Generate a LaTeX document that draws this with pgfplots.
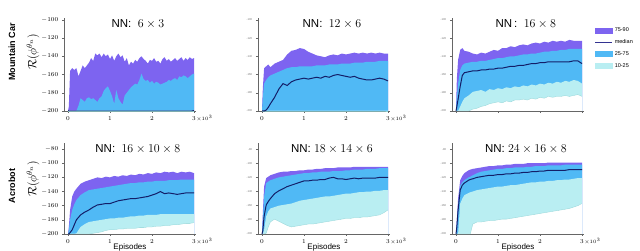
\documentclass[border=0pt]{standalone}
\usepackage{pgfplots}
\pgfplotsset{compat=1.18}
\usepackage{pgfplotstable}
\usepackage{fontspec}
\setmainfont{Liberation Sans}
\definecolor{cP}{HTML}{7D64F0}
\definecolor{cB}{HTML}{50B9F5}
\definecolor{cC}{HTML}{B9EEF2}
\definecolor{cM}{HTML}{131E68}

% Mountain Car, NN 6x3
\pgfplotstableread{
x p10 p25 med p75 p90
0 -200 -200 -200 -200 -200
0.02 -200 -200 -200 -200 -195
0.05 -200 -200 -200 -200 -156
0.1 -200 -200 -200 -200 -153
0.15 -200 -200 -200 -200 -155
0.2 -200 -200 -200 -200 -153
0.25 -200 -200 -200 -194 -162
0.3 -200 -200 -200 -186 -156
0.35 -200 -200 -200 -188 -150
0.4 -200 -200 -200 -190 -153
0.45 -200 -200 -200 -186 -150
0.5 -200 -200 -200 -185 -147
0.55 -200 -200 -200 -187 -142
0.6 -200 -200 -200 -186 -145
0.65 -200 -200 -200 -188 -137
0.7 -200 -200 -200 -190 -139
0.75 -200 -200 -200 -186 -137
0.8 -200 -200 -200 -184 -141
0.85 -200 -200 -200 -178 -137
0.9 -200 -200 -200 -175 -140
0.95 -200 -200 -200 -173 -138
1.0 -200 -200 -200 -178 -143
1.05 -200 -200 -200 -184 -139
1.1 -200 -200 -200 -192 -145
1.15 -200 -200 -200 -177 -140
1.2 -200 -200 -200 -186 -137
1.25 -200 -200 -200 -190 -141
1.3 -200 -200 -200 -193 -139
1.35 -200 -200 -200 -183 -146
1.4 -200 -200 -200 -180 -142
1.45 -200 -200 -200 -177 -150
1.5 -200 -200 -200 -174 -146
1.55 -200 -200 -200 -172 -148
1.6 -200 -200 -200 -170 -144
1.65 -200 -200 -200 -171 -146
1.7 -200 -200 -200 -166 -142
1.75 -200 -200 -200 -159 -140
1.8 -200 -200 -200 -165 -143
1.85 -200 -200 -200 -167 -145
1.9 -200 -200 -200 -166 -148
1.95 -200 -200 -200 -169 -144
2.0 -200 -200 -200 -167 -145
2.05 -200 -200 -200 -170 -142
2.1 -200 -200 -200 -168 -146
2.15 -200 -200 -200 -169 -145
2.2 -200 -200 -200 -171 -148
2.25 -200 -200 -200 -170 -143
2.3 -200 -200 -200 -169 -141
2.35 -200 -200 -200 -168 -145
2.4 -200 -200 -200 -166 -143
2.45 -200 -200 -200 -167 -146
2.5 -200 -200 -200 -165 -144
2.55 -200 -200 -200 -164 -142
2.6 -200 -200 -200 -166 -145
2.65 -200 -200 -200 -162 -143
2.7 -200 -200 -200 -163 -141
2.75 -200 -200 -200 -161 -145
2.8 -200 -200 -200 -162 -142
2.85 -200 -200 -200 -164 -144
2.9 -200 -200 -200 -162 -141
2.95 -200 -200 -200 -160 -143
3.0 -200 -200 -200 -159 -142
}\dA

% Mountain Car, NN 12x6
\pgfplotstableread{
x p10 p25 med p75 p90
0 -200 -200 -200 -200 -200
0.02 -200 -200 -200 -185 -175
0.05 -200 -200 -200 -170 -153
0.1 -200 -200 -199 -166 -151
0.15 -200 -200 -196 -163 -149
0.2 -200 -200 -192 -161 -152
0.3 -200 -200 -185 -159 -148
0.4 -200 -200 -176 -157 -146
0.5 -200 -200 -170 -155 -144
0.6 -200 -200 -172 -153 -138
0.7 -200 -200 -168 -152 -134
0.8 -200 -200 -166 -152 -133
0.9 -200 -200 -165 -151 -131
1.0 -200 -200 -164 -151 -132
1.1 -200 -200 -165 -151 -135
1.2 -200 -200 -164 -151 -137
1.3 -200 -200 -163 -150 -139
1.4 -200 -200 -164 -150 -140
1.5 -200 -200 -162 -150 -141
1.6 -200 -200 -163 -149 -139
1.7 -200 -200 -161 -149 -138
1.8 -200 -200 -160 -149 -139
1.9 -200 -200 -161 -148 -137
2.0 -200 -200 -162 -148 -138
2.1 -200 -200 -163 -148 -137
2.2 -200 -200 -162 -147 -136
2.3 -200 -200 -164 -147 -137
2.4 -200 -200 -165 -147 -136
2.5 -200 -200 -166 -146 -137
2.6 -200 -200 -166 -146 -136
2.7 -200 -200 -165 -146 -137
2.8 -200 -200 -164 -145 -136
2.9 -200 -200 -165 -145 -137
3.0 -200 -200 -167 -145 -137
}\dB

% Mountain Car, NN 16x8
\pgfplotstableread{
x p10 p25 med p75 p90
0 -200 -200 -200 -200 -200
0.02 -200 -200 -195 -185 -165
0.05 -200 -200 -187 -170 -144
0.1 -200 -195 -173 -155 -133
0.15 -200 -190 -161 -150 -131
0.2 -200 -186 -158 -148 -134
0.3 -200 -183 -157 -147 -135
0.4 -198 -179 -156 -146 -137
0.5 -197 -178 -156 -146 -138
0.6 -195 -177 -155 -145 -136
0.7 -194 -179 -155 -145 -137
0.8 -192 -176 -154 -144 -135
0.9 -191 -177 -154 -143 -133
1.0 -190 -175 -153 -142 -134
1.1 -191 -176 -153 -142 -131
1.2 -189 -174 -152 -141 -131
1.3 -190 -175 -151 -140 -129
1.4 -188 -173 -151 -140 -130
1.5 -188 -174 -150 -139 -128
1.6 -187 -172 -150 -138 -127
1.7 -188 -173 -149 -138 -128
1.8 -186 -171 -148 -137 -126
1.9 -187 -172 -148 -137 -125
2.0 -185 -170 -147 -136 -126
2.1 -186 -171 -147 -135 -124
2.2 -184 -169 -146 -135 -125
2.3 -185 -170 -146 -134 -123
2.4 -184 -168 -146 -134 -124
2.5 -184 -169 -146 -133 -123
2.6 -183 -167 -146 -133 -124
2.7 -184 -168 -146 -132 -122
2.8 -183 -166 -145 -132 -123
2.9 -182 -167 -145 -132 -123
3.0 -184 -170 -148 -132 -123
}\dC

% Acrobot, NN 16x10x8
\pgfplotstableread{
x p10 p25 med p75 p90
0 -200 -200 -200 -200 -200
0.02 -200 -200 -200 -195 -190
0.05 -200 -200 -198 -180 -166
0.1 -200 -200 -194 -166 -147
0.15 -200 -200 -187 -158 -140
0.2 -200 -199 -180 -152 -136
0.3 -200 -190 -173 -145 -129
0.4 -200 -186 -169 -141 -126
0.5 -200 -183 -166 -138 -124
0.6 -199 -182 -162 -137 -122
0.7 -198 -181 -159 -136 -120
0.8 -197 -180 -158 -135 -121
0.9 -195 -179 -157 -134 -119
1.0 -194 -178 -157 -133 -120
1.1 -194 -178 -155 -132 -118
1.2 -193 -177 -153 -131 -119
1.3 -193 -177 -152 -130 -117
1.4 -192 -176 -151 -129 -118
1.5 -192 -175 -150 -128 -116
1.6 -192 -175 -150 -128 -117
1.7 -191 -174 -149 -127 -115
1.8 -191 -174 -148 -127 -116
1.9 -190 -173 -147 -126 -114
2.0 -190 -173 -145 -126 -115
2.1 -189 -173 -143 -125 -113
2.2 -189 -172 -140 -125 -114
2.3 -188 -172 -143 -125 -112
2.4 -188 -172 -142 -124 -113
2.5 -187 -172 -143 -124 -112
2.6 -187 -172 -144 -124 -114
2.7 -186 -172 -143 -123 -112
2.8 -185 -172 -142 -123 -113
2.9 -185 -172 -142 -123 -112
3.0 -184 -172 -142 -123 -114
}\dD

% Acrobot, NN 18x14x6
\pgfplotstableread{
x p10 p25 med p75 p90
0 -200 -200 -200 -200 -200
0.02 -200 -200 -195 -180 -170
0.05 -200 -194 -175 -147 -133
0.1 -199 -175 -159 -128 -121
0.15 -190 -168 -154 -126 -119
0.2 -183 -164 -150 -124 -117
0.3 -179 -162 -143 -122 -115
0.4 -182 -160 -139 -120 -113
0.5 -185 -159 -136 -119 -112
0.6 -188 -158 -133 -118 -112
0.7 -190 -157 -131 -117 -111
0.8 -189 -155 -129 -116 -111
0.9 -188 -153 -127 -115 -110
1.0 -187 -152 -125 -114 -110
1.1 -186 -151 -125 -114 -109
1.2 -186 -150 -124 -113 -109
1.3 -185 -149 -124 -113 -108
1.4 -184 -148 -123 -112 -108
1.5 -183 -147 -123 -112 -107
1.6 -182 -147 -121 -112 -107
1.7 -181 -146 -120 -111 -107
1.8 -180 -145 -122 -111 -106
1.9 -179 -144 -122 -111 -106
2.0 -178 -143 -123 -110 -106
2.1 -178 -143 -122 -110 -106
2.2 -177 -142 -121 -109 -105
2.3 -177 -141 -122 -109 -105
2.4 -176 -141 -121 -109 -105
2.5 -176 -140 -121 -108 -105
2.6 -175 -140 -121 -108 -105
2.7 -174 -139 -121 -108 -105
2.8 -173 -139 -120 -107 -105
2.9 -170 -138 -120 -107 -105
3.0 -166 -138 -120 -107 -105
}\dE

% Acrobot, NN 24x16x8
\pgfplotstableread{
x p10 p25 med p75 p90
0 -200 -200 -200 -200 -200
0.02 -200 -200 -190 -185 -180
0.05 -200 -200 -166 -160 -150
0.1 -200 -157 -138 -132 -124
0.15 -200 -150 -131 -127 -118
0.2 -200 -145 -128 -124 -114
0.3 -200 -142 -124 -120 -110
0.34 -200 -141 -123 -119 -109
0.4 -186 -140 -122 -117 -108
0.5 -183 -138 -120 -114 -107
0.6 -183 -137 -119 -112 -106
0.7 -182 -136 -118 -111 -105
0.8 -181 -135 -117 -110 -104
0.9 -181 -134 -117 -109 -104
1.0 -180 -133 -116 -108 -103
1.1 -179 -133 -116 -108 -103
1.2 -179 -132 -115 -107 -102
1.3 -178 -131 -115 -107 -102
1.4 -177 -131 -114 -106 -101
1.5 -176 -130 -114 -106 -101
1.6 -175 -129 -113 -106 -101
1.7 -174 -128 -113 -105 -100
1.8 -173 -127 -112 -105 -100
1.9 -172 -127 -112 -104 -100
2.0 -171 -126 -111 -104 -100
2.1 -170 -126 -111 -104 -100
2.2 -169 -125 -110 -103 -99
2.3 -168 -125 -110 -103 -99
2.4 -167 -124 -110 -103 -99
2.5 -166 -124 -110 -103 -99
2.6 -165 -123 -110 -102 -99
2.7 -164 -123 -109 -102 -99
2.8 -162 -122 -109 -102 -99
2.9 -160 -121 -109 -102 -99
3.0 -157 -121 -109 -102 -99
}\dF

\newcommand{\bands}[1]{%
  \addplot[fill=cP, draw=none, forget plot] table[x=x,y=p90]{#1} -- (axis cs:3,-200) -- (axis cs:0,-200) -- cycle;
  \addplot[fill=cB, draw=none, forget plot] table[x=x,y=p75]{#1} -- (axis cs:3,-200) -- (axis cs:0,-200) -- cycle;
  \addplot[fill=cC, draw=none, forget plot] table[x=x,y=p25]{#1} -- (axis cs:3,-200) -- (axis cs:0,-200) -- cycle;
  \addplot[fill=white, draw=none, forget plot] table[x=x,y=p10]{#1} -- (axis cs:3,-200) -- (axis cs:0,-200) -- cycle;
  \addplot[cC!75!teal, line width=0.3pt, forget plot] table[x=x,y=p10]{#1};
  \addplot[cM, line width=1pt, forget plot] table[x=x,y=med]{#1};
}

\newcommand{\tinylab}[1]{{\fontsize{2.8}{3}\selectfont\color{black!55}#1}}

\pgfplotsset{
  panel/.style={scale only axis, width=132.3pt, xmin=-0.1, xmax=3.05,
    axis x line*=bottom, axis y line*=left,
    axis line style={-, black!60, line width=0.4pt},
    tick style={black!60, line width=0.4pt}, tick align=outside,
    major tick length=2pt, xtick={0,1,2,3}, clip=false,
    xticklabel style={font=\fontsize{6.5}{7}\selectfont},
  },
  toprow/.style={height=93pt, ymin=-200, ymax=-98, ytick={-200,-180,-160,-140,-120,-100}},
  botrow/.style={height=91.3pt, ymin=-200, ymax=-71, ytick={-200,-180,-160,-140,-120,-100,-80}},
  bigy/.style={yticklabel style={font=\fontsize{6.5}{7}\selectfont}},
}
\newcommand{\ttl}[1]{\node[font=\fontsize{11.5}{13}\selectfont] at (rel axis cs:0.56,0.93) {#1};}
\newcommand{\tenthree}{\node[anchor=north west, font=\fontsize{5}{6}\selectfont, inner sep=0pt] at ([yshift=-4pt]rel axis cs:1,0) {$\times10^3$};}
\newcommand{\episodes}{\node[font=\fontsize{8}{9}\selectfont] at ([yshift=-13pt]rel axis cs:0.5,0) {Episodes};}

\begin{document}
\begin{tikzpicture}
\path[use as bounding box] (0,0) rectangle (640pt,251pt);

% top row
\begin{axis}[panel, toprow, bigy, at={(63.8pt,140pt)}, anchor=south west]
\bands{\dA}
\ttl{NN:\ \ $6\times 3$}
\tenthree
\end{axis}
\begin{axis}[panel, toprow, at={(257.8pt,140pt)}, anchor=south west,
  yticklabels={\tinylab{-200},\tinylab{-180},\tinylab{-160},\tinylab{-140},\tinylab{-120},\tinylab{-100}}]
\bands{\dB}
\ttl{NN:\ \ $12\times 6$}
\tenthree
\end{axis}
\begin{axis}[panel, toprow, xticklabels={}, at={(451.8pt,140pt)}, anchor=south west,
  yticklabels={\tinylab{-200},\tinylab{-180},\tinylab{-160},\tinylab{-140},\tinylab{-120},\tinylab{-100}},
  legend style={at={(1.08,0.92)}, anchor=north west, draw=none, fill=none,
    font=\fontsize{5.5}{6}\selectfont, row sep=2.5pt, inner sep=0pt},
  legend cell align=left]
\addlegendimage{legend image code/.code={\fill[cP] (0pt,-2.5pt) rectangle (17pt,2.5pt);}}
\addlegendentry{75-90}
\addlegendimage{legend image code/.code={\draw[cM!70!cP, line width=0.9pt] (0pt,0pt) -- (17pt,0pt);}}
\addlegendentry{median}
\addlegendimage{legend image code/.code={\fill[cB] (0pt,-2.5pt) rectangle (17pt,2.5pt);}}
\addlegendentry{25-75}
\addlegendimage{legend image code/.code={\fill[cC] (0pt,-2.5pt) rectangle (17pt,2.5pt);}}
\addlegendentry{10-25}
\bands{\dC}
\ttl{NN\,:\ \ $16\times 8$}
\end{axis}

% bottom row
\begin{axis}[panel, botrow, bigy, at={(63.8pt,17pt)}, anchor=south west]
\bands{\dD}
\ttl{NN:\ \ $16\times 10\times 8$}
\tenthree
\episodes
\end{axis}
\begin{axis}[panel, botrow, at={(257.8pt,17pt)}, anchor=south west,
  yticklabels={\tinylab{-200},\tinylab{-180},\tinylab{-160},\tinylab{-140},\tinylab{-120},\tinylab{-100},\tinylab{-80}}]
\bands{\dE}
\ttl{NN:\ $18\times 14\times 6$}
\tenthree
\episodes
\end{axis}
\begin{axis}[panel, botrow, at={(451.8pt,17pt)}, anchor=south west,
  yticklabels={\tinylab{-200},\tinylab{-180},\tinylab{-160},\tinylab{-140},\tinylab{-120},\tinylab{-100},\tinylab{-80}}]
\bands{\dF}
\ttl{NN:\ $24\times 16\times 8$}
\tenthree
\episodes
\end{axis}

% row labels
\node[rotate=90, font=\bfseries\fontsize{9}{10}\selectfont] at (12pt,199pt) {Mountain Car};
\node[rotate=90, font=\fontsize{12}{14}\selectfont] at (33pt,199pt) {$\mathcal{R}(\phi^{\theta_n})$};
\node[rotate=90, font=\bfseries\fontsize{9}{10}\selectfont] at (12pt,65pt) {Acrobot};
\node[rotate=90, font=\fontsize{12}{14}\selectfont] at (33pt,72pt) {$\mathcal{R}(\phi^{\theta_n})$};
\end{tikzpicture}
\end{document}
